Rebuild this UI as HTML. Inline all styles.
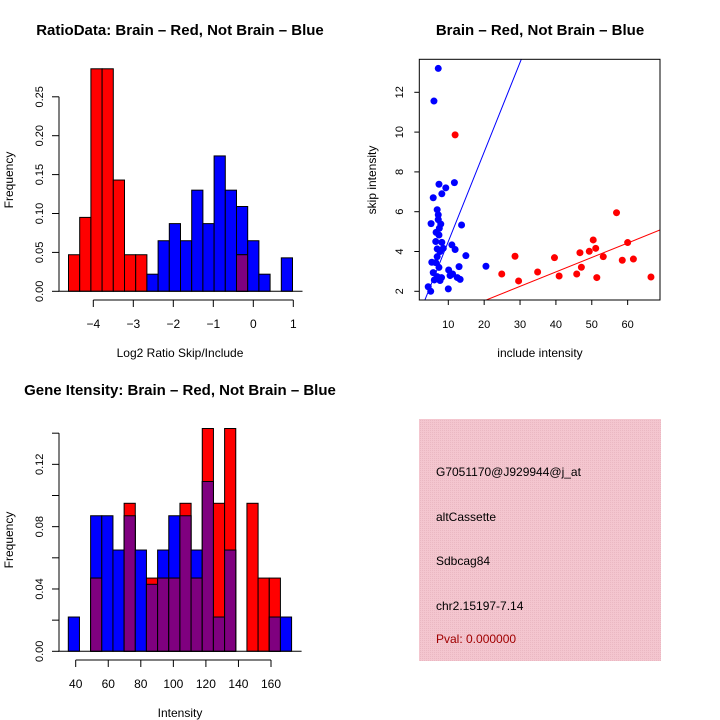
<!DOCTYPE html>
<html><head><meta charset="utf-8"><style>
html,body{margin:0;padding:0;background:#fff;}
svg{display:block;font-family:"Liberation Sans",sans-serif;}
</style></head><body>
<svg id="c" width="720" height="720" viewBox="0 0 720 720">
<rect x="0" y="0" width="720" height="720" fill="#fff"/>
<text x="180" y="35" text-anchor="middle" font-size="15" font-weight="bold">RatioData: Brain – Red, Not Brain – Blue</text>
<text x="540" y="35" text-anchor="middle" font-size="15" font-weight="bold">Brain – Red, Not Brain – Blue</text>
<text x="180" y="395" text-anchor="middle" font-size="15" font-weight="bold">Gene Itensity: Brain – Red, Not Brain – Blue</text>
<text x="180" y="357" text-anchor="middle" font-size="12">Log2 Ratio Skip/Include</text>
<text transform="translate(13,180) rotate(-90)" text-anchor="middle" font-size="12">Frequency</text>
<text x="540" y="357" text-anchor="middle" font-size="12">include intensity</text>
<text transform="translate(376,180) rotate(-90)" text-anchor="middle" font-size="12">skip intensity</text>
<text x="180" y="717" text-anchor="middle" font-size="12">Intensity</text>
<text transform="translate(13,540) rotate(-90)" text-anchor="middle" font-size="12">Frequency</text>
<defs><pattern id="hatch" width="2" height="2" patternUnits="userSpaceOnUse"><rect width="2" height="2" fill="#f4c6cf"/><rect width="1" height="1" fill="#eab8c2"/></pattern></defs>
<g>
<rect x="419" y="419" width="242" height="242" fill="url(#hatch)"/>
<text x="436" y="476" font-size="12">G7051170@J929944@j_at</text>
<text x="436" y="521" font-size="12">altCassette</text>
<text x="436" y="565" font-size="12">Sdbcag84</text>
<text x="436" y="610" font-size="12">chr2.15197-7.14</text>
<text x="436" y="643" font-size="12" fill="#a00000">Pval: 0.000000</text>
</g>
<g id="h1"></g><g id="sc"></g><g id="h2"></g>
</svg>
<script>
// Ratio histogram
const ratioRedFreq = [0.047,0.095,0.286,0.286,0.143,0.047,0.047,0,0,0,0,0,0,0,0,0.047,0,0,0,0];
const ratioBlueFreq = [0,0,0,0,0,0,0,0.022,0.065,0.087,0.065,0.130,0.087,0.174,0.130,0.109,0.065,0.022,0,0.043];
const ratioXTicks = [-4,-3,-2,-1,0,1];
const ratioYTicks = [0,0.05,0.10,0.15,0.20,0.25];
const ratioBreakStart = -4.62, ratioBinWidth = 0.28;
// Scatter
const blueX = [7.2,6.0,7.4,11.7,9.3,8.2,5.8,6.9,7.2,7.2,5.2,7.9,7.5,13.7,6.6,7.4,6.5,8.2,11.0,8.6,6.9,11.9,7.7,6.9,14.9,5.4,6.5,7.4,13.0,20.5,10.1,5.8,11.2,6.9,8.1,10.5,6.1,7.7,12.5,13.3,4.4,5.1,10.0];
const blueY = [13.2,11.56,7.38,7.46,7.2,6.9,6.7,6.1,5.84,5.6,5.4,5.38,5.17,5.33,4.96,4.83,4.5,4.46,4.33,4.16,4.13,4.1,4.0,3.74,3.79,3.46,3.44,3.2,3.24,3.26,3.07,2.94,2.87,2.74,2.69,2.79,2.57,2.54,2.69,2.6,2.23,2.0,2.12];
const redX = [11.9,56.9,50.4,60.0,51.1,49.3,46.7,28.6,53.2,39.6,58.5,61.6,47.1,34.9,24.9,45.8,40.9,51.4,66.5,29.6];
const redY = [9.86,5.95,4.58,4.45,4.16,4.01,3.94,3.76,3.74,3.69,3.56,3.62,3.21,2.97,2.87,2.87,2.77,2.69,2.72,2.52];
const blueFit = [0.0, 0.45];
const redFit = [0.07, 0.0726];
const scXTicks = [10,20,30,40,50,60];
const scYTicks = [2,4,6,8,10,12];
// Intensity histogram
const intBlueFreq = [0.022,0,0.087,0.087,0.065,0.087,0.065,0.043,0.065,0.087,0.087,0.065,0.109,0.022,0.065,0,0,0,0.022,0.022];
const intRedFreq = [0,0,0.047,0,0,0.095,0,0.047,0.047,0.047,0.095,0.047,0.143,0.095,0.143,0,0.095,0.047,0.047,0];
const intXTicks = [40,60,80,100,120,140,160];
const intYTicks = [0,0.02,0.04,0.06,0.08,0.10,0.12,0.14];
const intYLabels = [0,0.04,0.08,0.12];
const intBreakStart = 35.45, intBinWidth = 6.86;

const NS="http://www.w3.org/2000/svg";
function mk(p,tag,a){const e=document.createElementNS(NS,tag);for(const k in a)e.setAttribute(k,a[k]);p.appendChild(e);return e;}
function fmt(v,d){return v.toFixed(d);}

// --- hist 1
(function(){
const g=document.getElementById('h1');
const sx=v=>93.3+40*(v+4), sy=v=>291.3-778*v;
const n=ratioRedFreq.length;
for(let i=0;i<n;i++){
 const x0=sx(ratioBreakStart+i*ratioBinWidth), x1=sx(ratioBreakStart+(i+1)*ratioBinWidth);
 const b=ratioBlueFreq[i], r=ratioRedFreq[i];
 if(b>0){const e=mk(g,'rect',{x:x0,y:sy(b),width:x1-x0,height:sy(0)-sy(b),fill:'#0000ff',stroke:'#000','stroke-width':1});
 
 }
 if(r>0){const e=mk(g,'rect',{x:x0,y:sy(r),width:x1-x0,height:sy(0)-sy(r),fill:'#ff0000',stroke:'#000','stroke-width':1});
 
 }
 const m=Math.min(b,r);
 if(m>0){const e=mk(g,'rect',{x:x0,y:sy(m),width:x1-x0,height:sy(0)-sy(m),fill:'#7f007f',stroke:'#000','stroke-width':1});
 
 }
}
mk(g,'line',{x1:sx(ratioBreakStart)-10,x2:sx(ratioBreakStart+n*ratioBinWidth)+10,y1:sy(0),y2:sy(0),stroke:'#000'});
mk(g,'line',{x1:59,x2:59,y1:sy(0),y2:sy(0.25),stroke:'#000'});
ratioYTicks.forEach(v=>{mk(g,'line',{x1:52,x2:59,y1:sy(v),y2:sy(v),stroke:'#000'});
 const t=mk(g,'text',{transform:`translate(43,${sy(v)}) rotate(-90)`,'text-anchor':'middle','font-size':11});t.textContent=fmt(v,2);
 
 });
mk(g,'line',{x1:sx(-4),x2:sx(1),y1:300,y2:300,stroke:'#000'});
ratioXTicks.forEach(v=>{mk(g,'line',{x1:sx(v),x2:sx(v),y1:300,y2:307,stroke:'#000'});
 const t=mk(g,'text',{x:sx(v),y:328,'text-anchor':'middle','font-size':12});t.textContent=v<0?'−'+(-v):v;
 
 });
})();

// --- scatter
(function(){
const g=document.getElementById('sc');
const sx=v=>448.3+3.587*(v-10), sy=v=>291.3-19.9*(v-2);
const L=419.3,R=660,T=59.3,B=300;
const cp=mk(g,'clipPath',{id:'scclip'});mk(cp,'rect',{x:L,y:T,width:R-L,height:B-T});
const lg=mk(g,'g',{'clip-path':'url(#scclip)'});
const xa=1.92,xb=69.0;
const bl=mk(lg,'line',{x1:sx(xa),y1:sy(blueFit[0]+blueFit[1]*xa),x2:sx(xb),y2:sy(blueFit[0]+blueFit[1]*xb),stroke:'#0000ff'});


const rl=mk(lg,'line',{x1:sx(xa),y1:sy(redFit[0]+redFit[1]*xa),x2:sx(xb),y2:sy(redFit[0]+redFit[1]*xb),stroke:'#ff0000'});


blueX.forEach((x,i)=>{const c=mk(g,'circle',{cx:sx(x),cy:sy(blueY[i]),r:3.5,fill:'#0000ff'});
 
 });
redX.forEach((x,i)=>{const c=mk(g,'circle',{cx:sx(x),cy:sy(redY[i]),r:3.5,fill:'#ff0000'});
 
 });
mk(g,'rect',{x:L,y:T,width:R-L,height:B-T,fill:'none',stroke:'#000'});
scXTicks.forEach(v=>{mk(g,'line',{x1:sx(v),x2:sx(v),y1:B,y2:B+5,stroke:'#000'});
 const t=mk(g,'text',{x:sx(v),y:328,'text-anchor':'middle','font-size':11});t.textContent=v;
 
 });
scYTicks.forEach(v=>{mk(g,'line',{x1:L-5,x2:L,y1:sy(v),y2:sy(v),stroke:'#000'});
 const t=mk(g,'text',{transform:`translate(403,${sy(v)}) rotate(-90)`,'text-anchor':'middle','font-size':11});t.textContent=v;
 
 });
})();

// --- hist 2
(function(){
const g=document.getElementById('h2');
const sx=v=>75.7+1.6275*(v-40), sy=v=>651.3-1558*v;
const n=intBlueFreq.length;
for(let i=0;i<n;i++){
 const x0=sx(intBreakStart+i*intBinWidth), x1=sx(intBreakStart+(i+1)*intBinWidth);
 const b=intBlueFreq[i], r=intRedFreq[i];
 if(b>0){const e=mk(g,'rect',{x:x0,y:sy(b),width:x1-x0,height:sy(0)-sy(b),fill:'#0000ff',stroke:'#000','stroke-width':1});
 
 }
 if(r>0){const e=mk(g,'rect',{x:x0,y:sy(r),width:x1-x0,height:sy(0)-sy(r),fill:'#ff0000',stroke:'#000','stroke-width':1});
 
 }
 const m=Math.min(b,r);
 if(m>0){const e=mk(g,'rect',{x:x0,y:sy(m),width:x1-x0,height:sy(0)-sy(m),fill:'#7f007f',stroke:'#000','stroke-width':1});
 
 }
}
mk(g,'line',{x1:sx(intBreakStart)-10,x2:sx(intBreakStart+n*intBinWidth)+10,y1:sy(0),y2:sy(0),stroke:'#000'});
mk(g,'line',{x1:59,x2:59,y1:sy(0),y2:sy(0.14),stroke:'#000'});
intYTicks.forEach(v=>{mk(g,'line',{x1:52,x2:59,y1:sy(v),y2:sy(v),stroke:'#000'});});
intYLabels.forEach(v=>{const t=mk(g,'text',{transform:`translate(43,${sy(v)}) rotate(-90)`,'text-anchor':'middle','font-size':11});t.textContent=fmt(v,2);
 
 });
mk(g,'line',{x1:sx(40),x2:sx(160),y1:660,y2:660,stroke:'#000'});
intXTicks.forEach(v=>{mk(g,'line',{x1:sx(v),x2:sx(v),y1:660,y2:667,stroke:'#000'});
 const t=mk(g,'text',{x:sx(v),y:688,'text-anchor':'middle','font-size':12});t.textContent=v;
 
 });
})();
</script>
</body></html>
